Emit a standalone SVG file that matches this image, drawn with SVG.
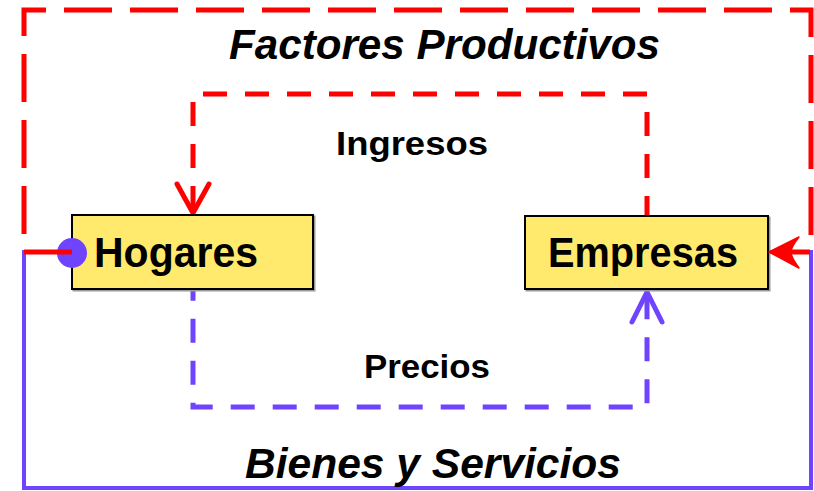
<svg xmlns="http://www.w3.org/2000/svg" width="814" height="491" viewBox="0 0 814 491">
  <style>
    .box { fill: #FFEA6E; stroke: #000; stroke-width: 2; }
    .shadow { fill: none; stroke: #9a9a9a; stroke-width: 2; }
    .lbl { font-family: "Liberation Sans", "DejaVu Sans", sans-serif; font-weight: bold; fill: #000; }
    .big { font-size: 43px; font-style: italic; }
    .mid { font-size: 34px; }
    .node { font-size: 43px; }
    .red { stroke: #FF0000; fill: none; }
    .pur { stroke: #6E44FF; fill: none; }
  </style>
  <rect x="0" y="0" width="814" height="491" fill="#FFFFFF"/>

  <g id="connectors">
    <!-- Bienes y Servicios: outer solid purple loop -->
    <path class="pur" stroke-width="4" d="M768,252 L811,252 L811,488 L24,488 L24,252 L72,252"/>
    <!-- Precios: inner dashed purple -->
    <path class="pur" stroke-width="5" stroke-dasharray="24 18" stroke-dashoffset="12.3" d="M193,289 L193,407 L647,407 L647,293"/>
    <polyline class="pur" stroke-width="5" stroke-linecap="round" stroke-linejoin="round" points="632,322 647,292 662,322"/>
    <!-- Ingresos: inner dashed red -->
    <path class="red" stroke-width="5" stroke-dasharray="24 18" stroke-dashoffset="4" d="M647,216 L647,94 L193,94 L193,211"/>
    <polyline class="red" stroke-width="5" stroke-linecap="round" stroke-linejoin="round" points="177,184 193,213 209,184"/>
  </g>

  <g id="hogares">
    <rect class="shadow" x="73.5" y="216.5" width="241" height="74"/>
    <rect class="box" x="72" y="215" width="241" height="74"/>
    <text class="lbl node" x="94" y="267" textLength="164" lengthAdjust="spacingAndGlyphs">Hogares</text>
  </g>

  <g id="empresas">
    <rect class="shadow" x="526.5" y="217.5" width="243" height="73"/>
    <rect class="box" x="525" y="216" width="243" height="73"/>
    <text class="lbl node" x="548" y="267" textLength="190" lengthAdjust="spacingAndGlyphs">Empresas</text>
  </g>

  <g id="connectors-top">
    <circle cx="72" cy="253" r="15" fill="#6E44FF"/>
    <!-- Factores Productivos: outer dashed red loop -->
    <path class="red" stroke-width="5" stroke-dasharray="48 18" d="M72,252 L24,252 L24,10 L811,10 L811,252 L785,252"/>
    <path d="M769,252 L799,237 Q791,247 791,252 Q791,257 799,268 Z" fill="#FF0000" stroke="#FF0000" stroke-width="1.5" stroke-linejoin="round"/>
  </g>

  <g id="labels">
    <text class="lbl big" x="229" y="59" textLength="431" lengthAdjust="spacingAndGlyphs">Factores Productivos</text>
    <text class="lbl mid" x="336" y="155" textLength="152" lengthAdjust="spacingAndGlyphs">Ingresos</text>
    <text class="lbl mid" x="364" y="378" textLength="126" lengthAdjust="spacingAndGlyphs">Precios</text>
    <text class="lbl big" x="245" y="478" textLength="376" lengthAdjust="spacingAndGlyphs">Bienes y Servicios</text>
  </g>
</svg>
